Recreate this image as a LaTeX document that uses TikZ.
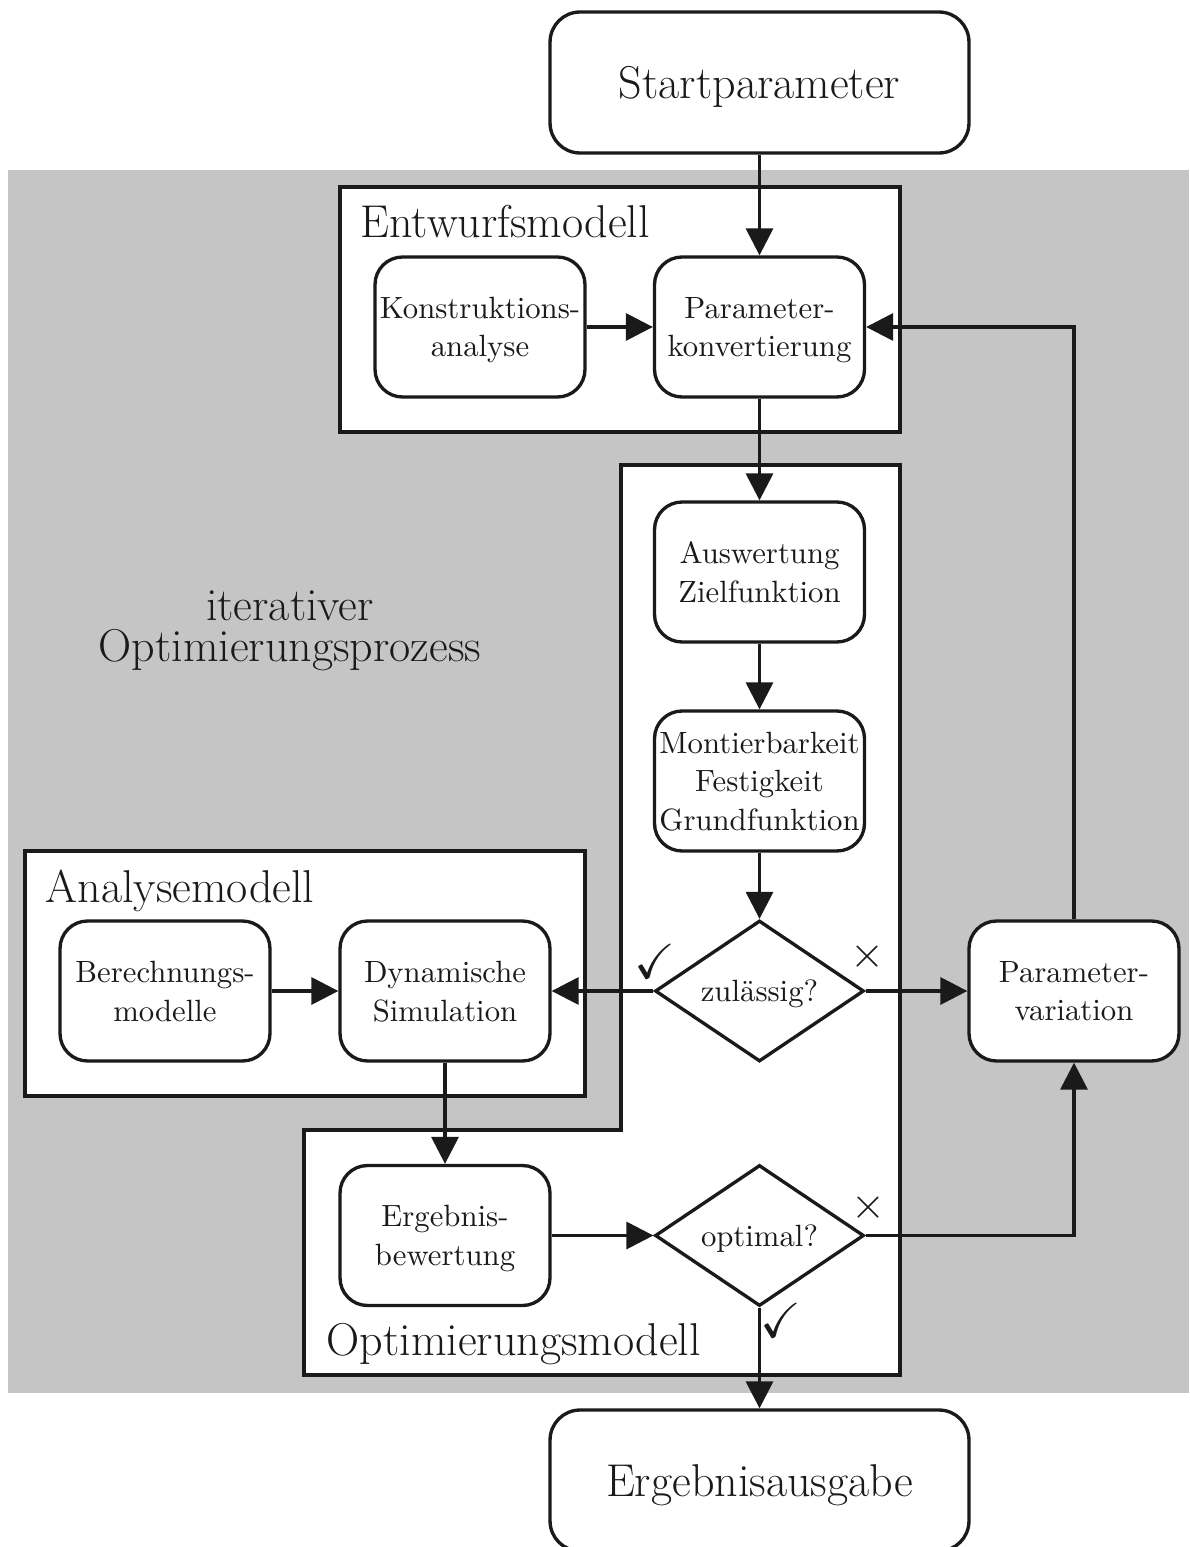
\documentclass[tikz,border=0pt]{standalone}
\usepackage{amssymb}
\usepackage{fontspec}
\newfontfamily\boxfont{lmroman10-regular.otf}
\usetikzlibrary{arrows.meta,shapes.geometric}
\definecolor{bggray}{RGB}{197,197,197}
\definecolor{ink}{RGB}{26,26,26}
\begin{document}
\begin{tikzpicture}[x=0.02cm,y=-0.02cm, line width=1.9pt, draw=ink,
  box/.style={draw=ink, rounded corners=0.55cm, fill=white, minimum width=4.2cm, minimum height=2.8cm,
    align=center, inner sep=0pt, text depth=0pt, text=ink, font=\boxfont\fontsize{17.5}{22}\selectfont},
  bigbox/.style={draw=ink, rounded corners=0.6cm, fill=white, minimum width=8.38cm, minimum height=2.82cm,
    inner sep=0pt, text depth=0pt, text=ink, font=\fontsize{26.2}{30}\selectfont},
  dec/.style={draw=ink, diamond, fill=white, minimum width=4.18cm, minimum height=2.82cm,
    inner sep=0pt, text depth=0pt, text=ink, font=\boxfont\fontsize{17.5}{22}\selectfont},
  frametitle/.style={inner sep=0pt, text=ink, font=\fontsize{26.2}{30}\selectfont},
  tick/.style={inner sep=0pt, text=ink, font=\fontsize{28}{32}\selectfont},
  cross/.style={inner sep=0pt, text=ink, font=\fontsize{32}{36}\selectfont},
  arr/.style={draw=ink, -{Triangle[length=0.54cm,width=0.54cm]}},
]
\useasboundingbox (0,0) rectangle (1189,1547);
% background
\fill[bggray] (8,170) rectangle (1189,1393);
% frames
\draw[fill=white] (340,187) rectangle (900,432);
\draw[fill=white] (621,465) -- (900,465) -- (900,1375) -- (304,1375) -- (304,1130) -- (621,1130) -- cycle;
\draw[fill=white] (25,851) rectangle (585,1096);
% titles
\node[frametitle, anchor=base west] (tEntwurf) at (359,238) {Entwurfsmodell};
\node[frametitle, anchor=base west] (tAnalyse) at (44,902) {Analysemodell};
\node[frametitle, anchor=base west] (tOpt) at (325,1355) {Optimierungsmodell};
\node[frametitle, align=center, font=\fontsize{26.2}{23}\selectfont] (tIter) at (290,631) {iterativer\\Optimierungsprozess};
% nodes
\node[bigbox] (start) at (759.5,82.5) {Startparameter};
\node[bigbox] (ausgabe) at (759.5,1480.5) {Ergebnisausgabe};
\node[box] (konstr) at (480,327) {Konstruktions-\\analyse};
\node[box] (konv) at (759.5,327) {Parameter-\\konvertierung};
\node[box] (ausw) at (759.5,572) {Auswertung\\Zielfunktion};
\node[box] (mont) at (759.5,781) {Montierbarkeit\\Festigkeit\\Grundfunktion};
\node[dec] (zul) at (759.5,991) {zulässig?};
\node[box] (berech) at (165,991) {Berechnungs-\\modelle};
\node[box] (dyn) at (445,991) {Dynamische\\Simulation};
\node[box] (pvar) at (1074,991) {Parameter-\\variation};
\node[box] (erg) at (445,1235.5) {Ergebnis-\\bewertung};
\node[dec] (opt) at (759.5,1235.5) {optimal?};
% ticks and crosses
\node[tick] (ok1) at (655,961) {$\checkmark$};
\node[cross] (no1) at (867,957) {$\times$};
\node[cross] (no2) at (868,1208) {$\times$};
\node[tick] (ok2) at (781,1320) {$\checkmark$};
% connectors
\draw[arr] (start) -- (konv);
\draw[arr] (konstr) -- (konv);
\draw[arr] (konv) -- (ausw);
\draw[arr] (ausw) -- (mont);
\draw[arr] (mont) -- (zul);
\draw[arr] (zul) -- (dyn);
\draw[arr] (zul) -- (pvar);
\draw[arr] (berech) -- (dyn);
\draw[arr] (dyn) -- (erg);
\draw[arr] (erg) -- (opt);
\draw[arr] (opt.east) -| (pvar.south);
\draw[arr] (opt) -- (ausgabe);
\draw[arr] (pvar.north) |- (konv.east);
\end{tikzpicture}
\end{document}
